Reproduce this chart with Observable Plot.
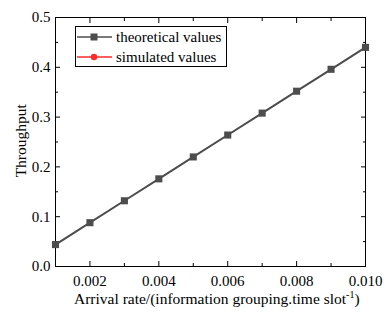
<!DOCTYPE html>
<html><head><meta charset="utf-8">
<script src="https://cdn.jsdelivr.net/npm/d3@7"></script>
<script src="https://cdn.jsdelivr.net/npm/@observablehq/plot@0.6"></script>
<style>
body{margin:0;background:#fff;}
#wrap{position:relative;width:390px;height:315px;font-family:"Liberation Serif","Times New Roman",serif;color:#000;}
.lbl{position:absolute;font-size:15.5px;white-space:nowrap;line-height:1;}
#legend{position:absolute;left:75px;top:26px;width:150px;height:39px;border:1px solid #000;background:#fff;font-size:15px;}
#legend .row{position:absolute;left:0;height:20px;display:flex;align-items:center;}
</style></head><body><div id="wrap"></div>
<script>
const arrivalRate = [0.001,0.002,0.003,0.004,0.005,0.006,0.007,0.008,0.009,0.010];
const theoretical = [0.044,0.088,0.132,0.176,0.220,0.264,0.308,0.352,0.396,0.440];
const simulated   = [0.044,0.088,0.132,0.176,0.220,0.264,0.308,0.352,0.396,0.440];
const xMajorTicks = [0.002,0.004,0.006,0.008,0.010];
const xMinorTicks = [0.001,0.003,0.005,0.007,0.009];
const yMajorTicks = [0,0.1,0.2,0.3,0.4,0.5];
const yMinorTicks = [0.05,0.15,0.25,0.35,0.45];
const seriesNames = ["theoretical values","simulated values"];
const seriesColors = ["#4d4d4d","#ff2a2a"];
const xTitle = "Arrival rate/(information grouping.time slot";
const xTitleSup = "-1";
const yTitle = "Throughput";

const theo = arrivalRate.map((x,i)=>({x, y: theoretical[i]}));
const sim = arrivalRate.map((x,i)=>({x, y: simulated[i]}));

const font = '"Liberation Serif","Times New Roman",serif';
const chart = Plot.plot({
  width: 390, height: 315,
  marginLeft: 55, marginRight: 25, marginTop: 17, marginBottom: 49,
  style: {fontFamily: font, fontSize: "15px", color: "#000", background: "transparent"},
  x: {domain: [0.001, 0.010]},
  y: {domain: [0, 0.5]},
  marks: [
    Plot.axisX({ticks: xMajorTicks, tickSize: -5, tickPadding: 14, tickFormat: d3.format(".3f"), label: null, anchor: "bottom"}),
    Plot.axisX({ticks: xMinorTicks, tickSize: -3, tickFormat: () => "", label: null, anchor: "bottom"}),
    Plot.axisX({ticks: xMajorTicks, tickSize: -5, tickFormat: () => "", label: null, anchor: "top"}),
    Plot.axisX({ticks: xMinorTicks, tickSize: -3, tickFormat: () => "", label: null, anchor: "top"}),
    Plot.axisY({ticks: yMajorTicks, tickSize: -5, tickPadding: 10, tickFormat: d3.format(".1f"), label: null, anchor: "left"}),
    Plot.axisY({ticks: yMinorTicks, tickSize: -3, tickFormat: () => "", label: null, anchor: "left"}),
    Plot.axisY({ticks: yMajorTicks, tickSize: -5, tickFormat: () => "", label: null, anchor: "right"}),
    Plot.axisY({ticks: yMinorTicks, tickSize: -3, tickFormat: () => "", label: null, anchor: "right"}),
    Plot.frame({stroke: "#000", strokeWidth: 1}),
    Plot.line(sim, {x: "x", y: "y", stroke: seriesColors[1], strokeWidth: 0.8}),
    Plot.dot(sim, {x: "x", y: "y", fill: seriesColors[1], r: 2.5, symbol: "circle"}),
    Plot.line(theo, {x: "x", y: "y", stroke: seriesColors[0], strokeWidth: 2}),
    Plot.dot(theo, {x: "x", y: "y", fill: seriesColors[0], r: 4, symbol: "square"})
  ]
});
const wrap = document.getElementById("wrap");
wrap.appendChild(chart);
chart.style.position = "absolute"; chart.style.left = "0"; chart.style.top = "0";

// axis titles
const xt = document.createElement("div");
xt.className = "lbl";
xt.innerHTML = xTitle + "<sup style='font-size:10px;vertical-align:6px'>" + xTitleSup + "</sup>)";
xt.style.left = "0px"; xt.style.top = "290px";
wrap.appendChild(xt);
xt.style.left = (217 - xt.offsetWidth/2) + "px";

const yt = document.createElement("div");
yt.className = "lbl";
yt.textContent = yTitle;
wrap.appendChild(yt);
yt.style.left = (20 - yt.offsetWidth/2) + "px";
yt.style.top = (141 - yt.offsetHeight/2) + "px";
yt.style.transform = "rotate(-90deg)";

// legend
const lg = document.createElement("div");
lg.id = "legend";
seriesNames.forEach((name, i) => {
  const row = document.createElement("div");
  row.className = "row";
  row.style.top = (i*20) + "px";
  const sym = i === 0
    ? `<rect x="14.5" y="6.5" width="7" height="7" fill="${seriesColors[i]}"/>`
    : `<circle cx="18" cy="10" r="3.2" fill="${seriesColors[i]}"/>`;
  row.innerHTML = `<svg width="40" height="20" style="display:block"><line x1="1" x2="36" y1="10" y2="10" stroke="${seriesColors[i]}" stroke-width="1.5"/>${sym}</svg><span style="margin-left:0px">${name}</span>`;
  lg.appendChild(row);
});
wrap.appendChild(lg);
</script></body></html>
